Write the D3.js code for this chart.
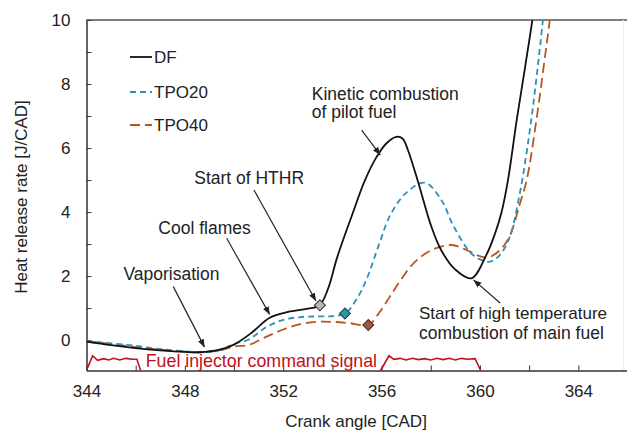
<!DOCTYPE html>
<html><head><meta charset="utf-8">
<script src="https://cdn.jsdelivr.net/npm/d3@7"></script>
<style>
html,body{margin:0;padding:0;background:#fff;}
svg text{font-family:"Liberation Sans",Arial,sans-serif;fill:#222;}
</style></head>
<body><svg id="c" width="627" height="430"></svg>
<script>
// ---- data ----
const dfCad  = [344,345,346,347,348,348.6,349.4,350.0,350.7,351.45,352.2,353.0,353.48,353.82,354.2,354.83,355.3,355.78,356.2,356.6,356.85,357.07,357.5,358.0,358.43,359.0,359.65,360.26,360.6,360.87,361.14,361.5,361.85,362.13,362.4];
const dfVal  = [-0.05,-0.16,-0.25,-0.32,-0.37,-0.38,-0.3,-0.14,0.22,0.7,0.88,0.98,1.09,1.6,2.6,3.97,4.95,5.7,6.15,6.35,6.3,5.94,4.9,3.6,2.8,2.2,1.93,2.66,3.3,3.97,5.0,6.9,8.6,10,11.6];
const tpo20Cad = [344,345,346,347,348,348.6,349.4,350.0,350.6,351.3,352.0,352.7,353.4,354.0,354.52,355.0,355.38,355.9,356.35,357.0,357.75,358.43,358.9,359.58,360.0,360.4,360.8,361.2,361.6,362.0,362.3,362.56,362.8];
const tpo20Val = [-0.03,-0.1,-0.18,-0.28,-0.35,-0.38,-0.32,-0.12,0.02,0.4,0.63,0.72,0.74,0.75,0.83,1.3,1.88,3.0,3.9,4.6,4.92,4.38,3.6,2.76,2.52,2.45,2.65,3.2,4.5,6.4,8.2,10,11.8];
const tpo40Cad = [344,345,346,347,348,348.6,349.4,350.0,350.6,351.3,352.0,352.7,353.4,354.0,354.7,355.46,355.9,356.33,356.73,357.3,358.0,358.84,359.5,360.0,360.33,360.8,361.2,361.6,361.9,362.3,362.6,362.84,363.1];
const tpo40Val = [-0.03,-0.12,-0.22,-0.3,-0.36,-0.38,-0.33,-0.2,-0.15,0.1,0.33,0.5,0.57,0.57,0.53,0.47,0.85,1.35,1.82,2.4,2.8,2.97,2.8,2.62,2.58,2.8,3.23,4.2,5.0,6.9,8.6,10,11.8];
const sig1Cad = [344.0,344.25,344.45,344.7,344.9,345.1,345.35,345.6,345.85,346.05,346.2];
const sig1Val = [-0.95,-0.49,-0.63,-0.58,-0.62,-0.57,-0.62,-0.57,-0.6,-0.6,-0.95];
const sig2Cad = [355.96,356.3,356.5,356.75,357.0,357.25,357.5,357.75,358.0,358.25,358.5,358.75,359.0,359.25,359.5,359.8,360.03];
const sig2Val = [-0.95,-0.49,-0.6,-0.57,-0.62,-0.57,-0.61,-0.58,-0.62,-0.57,-0.61,-0.57,-0.62,-0.57,-0.6,-0.58,-0.95];
const markCad = [353.49,354.51,355.46];
const markVal = [1.09,0.83,0.47];
const seriesNames = ["DF","TPO20","TPO40"];
const xMajor = [344,348,352,356,360,364];
const xMinor = [346,350,354,358,362];
const yMajor = [0,2,4,6,8,10];
const yMinor = [1,3,5,7,9];

// ---- scales ----
const svg = d3.select("#c");
const x = d3.scaleLinear().domain([344,366]).range([86.5,627.5]);
const y = d3.scaleLinear().domain([-0.95,10]).range([370.5,20]);
const colors = ["#111","#2f8fb5","#b8561e"];
const dashes = [null,"6,4","10,5"];
const markFill = ["#b8b8b8","#1b9fb0","#a5573a"];

svg.append("defs").append("clipPath").attr("id","clip")
  .append("rect").attr("x",86.5).attr("y",20).attr("width",541).attr("height",350.5);
const mk = svg.select("defs").append("marker").attr("id","arr")
  .attr("viewBox","0 0 10 10").attr("refX",10).attr("refY",5)
  .attr("markerWidth",8).attr("markerHeight",8).attr("markerUnits","userSpaceOnUse")
  .attr("orient","auto");
mk.append("path").attr("d","M0,1 L10,5 L0,9 Z").attr("fill","#222");

// borders
svg.append("line").attr("x1",x(344)).attr("x2",627).attr("y1",y(10)).attr("y2",y(10)).attr("stroke","#555").attr("stroke-width",1.5);
svg.append("line").attr("x1",623.5).attr("x2",623.5).attr("y1",y(10)).attr("y2",y(-0.95)).attr("stroke","#eee").attr("stroke-width",1);

// axes with inward ticks
const xAxis = svg.append("g").attr("transform",`translate(0,${y(-0.95)})`)
  .call(d3.axisBottom(x).tickValues(xMajor).tickSizeInner(-5).tickSizeOuter(0).tickPadding(16).tickFormat(d3.format("d")));
svg.append("g").attr("transform",`translate(0,${y(-0.95)})`)
  .call(d3.axisBottom(x).tickValues(xMinor).tickSizeInner(-5).tickSizeOuter(0).tickFormat(""))
  .select(".domain").remove();
const yAxis = svg.append("g").attr("transform",`translate(${x(344)},0)`)
  .call(d3.axisLeft(y).tickValues(yMajor).tickSizeInner(-5).tickSizeOuter(0).tickPadding(16).tickFormat(d3.format("d")));
svg.append("g").attr("transform",`translate(${x(344)},0)`)
  .call(d3.axisLeft(y).tickValues(yMinor).tickSizeInner(-5).tickSizeOuter(0).tickFormat(""))
  .select(".domain").remove();
svg.selectAll(".domain").attr("stroke","#333").attr("stroke-width",1.5);
svg.selectAll(".tick line").attr("stroke","#333").attr("stroke-width",1);
svg.selectAll(".tick text").attr("font-size",17).attr("fill","#222").attr("font-family","Liberation Sans, Arial, sans-serif");
xAxis.selectAll(".tick text").attr("dy","0.71em").attr("y",14);

svg.append("text").attr("x",356).attr("y",427).attr("text-anchor","middle").attr("font-size",17).text("Crank angle [CAD]");
svg.append("text").attr("transform","translate(27,197) rotate(-90)").attr("text-anchor","middle").attr("font-size",17).text("Heat release rate [J/CAD]");

// lines
const plot = svg.append("g").attr("clip-path","url(#clip)");
const line = d3.line().x(d=>x(d[0])).y(d=>y(d[1])).curve(d3.curveCatmullRom.alpha(0.5));
const series = [[dfCad,dfVal],[tpo20Cad,tpo20Val],[tpo40Cad,tpo40Val]];
[2,1,0].forEach(i=>{
  const pts = series[i][0].map((c,j)=>[c,series[i][1][j]]);
  plot.append("path").attr("d",line(pts)).attr("fill","none")
    .attr("stroke",colors[i]).attr("stroke-width",1.8)
    .attr("stroke-dasharray",dashes[i]);
});
const sigLine = d3.line().x(d=>x(d[0])).y(d=>y(d[1])).curve(d3.curveLinear);
[[sig1Cad,sig1Val],[sig2Cad,sig2Val]].forEach(s=>{
  plot.append("path").attr("d",sigLine(s[0].map((c,j)=>[c,s[1][j]])))
    .attr("fill","none").attr("stroke","#c0101a").attr("stroke-width",1.6);
});

// annotations (arrows point at data positions)
function arrow(c0,v0,c1,v1){
  svg.append("line").attr("x1",x(c0)).attr("y1",y(v0)).attr("x2",x(c1)).attr("y2",y(v1))
    .attr("stroke","#222").attr("stroke-width",1.2).attr("marker-end","url(#arr)");
}
arrow(355.19,6.56,355.95,5.78);
arrow(350.81,4.69,353.33,1.22);
arrow(349.70,3.18,351.45,0.8);
arrow(347.53,1.67,348.8,-0.22);
arrow(360.82,1.16,359.74,1.88);

// markers
markCad.forEach((c,i)=>{
  svg.append("path").attr("d",d3.symbol().type(d3.symbolSquare).size(60)())
    .attr("transform",`translate(${x(c)},${y(markVal[i])}) rotate(45)`)
    .attr("fill",markFill[i]).attr("stroke","#333").attr("stroke-width",1);
});

function txt(c,v,s,fs,fill){
  svg.append("text").attr("x",x(c)).attr("y",y(v)).attr("font-size",fs).style("fill",fill||"#222").text(s);
}
txt(353.16,7.5,"Kinetic combustion",17.5);
txt(353.16,6.93,"of pilot fuel",17.5);
txt(348.38,4.87,"Start of HTHR",17.5);
txt(346.92,3.33,"Cool flames",17.5);
txt(345.5,1.89,"Vaporisation",17.5);
txt(357.52,0.65,"Start of high temperature",17);
txt(357.52,0.03,"combustion of main fuel",17.5);
txt(346.41,-0.83,"Fuel injector command signal",17.8,"#c0101a");

// legend
const legY = [57,92,125];
seriesNames.forEach((n,i)=>{
  svg.append("line").attr("x1",130).attr("x2",152).attr("y1",legY[i]).attr("y2",legY[i])
    .attr("stroke",colors[i]).attr("stroke-width",1.8).attr("stroke-dasharray",dashes[i]);
  svg.append("text").attr("x",154).attr("y",legY[i]+6).attr("font-size",17).text(n);
});
</script></body></html>
